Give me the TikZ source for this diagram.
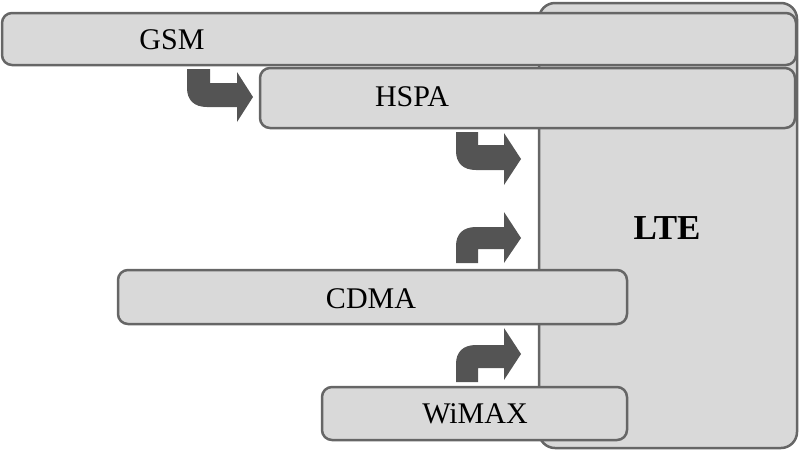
\documentclass[tikz,border=0pt]{standalone}
\usepackage{fontspec}
\setmainfont{Liberation Serif}
\begin{document}
\begin{tikzpicture}[x=1pt,y=-1pt,
  box/.style={draw=black!60,fill=black!15,line width=2.5pt,rounded corners=10pt},
  bigbox/.style={draw=black!60,fill=black!15,line width=2.5pt,rounded corners=16pt},
  lbl/.style={font=\fontsize{30}{36}\selectfont,text=black},
  bentarrow/.style={fill=black!67,draw=none}]
\useasboundingbox (0,0) rectangle (800,451);
% LTE
\draw[bigbox] (539,3) rectangle (797,448);
\node[font=\fontsize{35}{40}\selectfont\bfseries] (lte) at (667,228) {LTE};
% GSM
\draw[box] (2,13) rectangle (796,65);
\node[lbl] (gsm) at (172,40) {GSM};
% HSPA
\draw[box] (260,68) rectangle (795,128);
\node[lbl] (hspa) at (412,97) {HSPA};
% CDMA
\draw[box] (118,270) rectangle (627,324);
\node[lbl] (cdma) at (371,299) {CDMA};
% WiMAX
\draw[box] (322,387) rectangle (627,440);
\node[lbl] (wimax) at (475,414) {WiMAX};
% arrows
\fill[bentarrow] (187,69) -- (210,69) -- (210,83) -- (237,83) -- (237,72) -- (253,97) -- (237,122) -- (237,107) -- (207,107) .. controls (194,107) and (187,100) .. (187,88) -- cycle;
\fill[bentarrow] (456,132) -- (478,132) -- (478,145) -- (504,145) -- (504,133) -- (521,159) -- (504,185) -- (504,170) -- (476,170) .. controls (463,170) and (456,163) .. (456,151) -- cycle;
\fill[bentarrow] (456,263) -- (478,263) -- (478,249) -- (504,249) -- (504,263) -- (521,238) -- (504,212) -- (504,227) -- (476,227) .. controls (463,227) and (456,234) .. (456,246) -- cycle;
\fill[bentarrow] (456,382) -- (478,382) -- (478,368) -- (504,368) -- (504,380) -- (521,354) -- (504,328) -- (504,345) -- (476,345) .. controls (463,345) and (456,352) .. (456,364) -- cycle;
\end{tikzpicture}
\end{document}
